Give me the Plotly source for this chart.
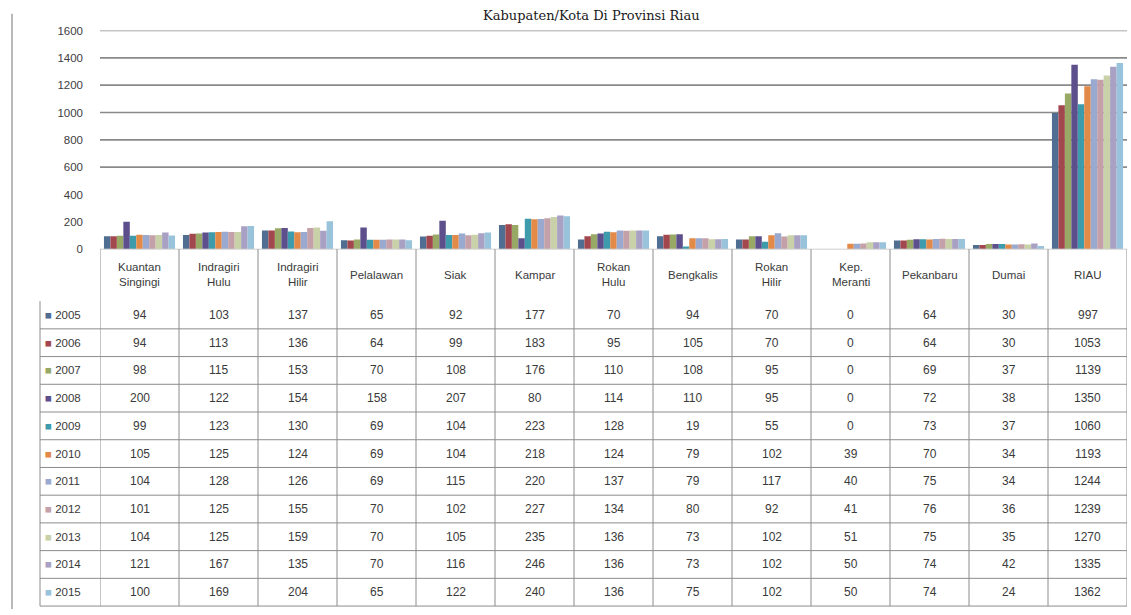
import plotly.graph_objects as go

# ---------------- data ----------------
CATEGORIES = ["Kuantan Singingi", "Indragiri Hulu", "Indragiri Hilir", "Pelalawan", "Siak",
              "Kampar", "Rokan Hulu", "Bengkalis", "Rokan Hilir", "Kep. Meranti",
              "Pekanbaru", "Dumai", "RIAU"]
HEADER_LABELS = ["Kuantan<br>Singingi", "Indragiri<br>Hulu", "Indragiri<br>Hilir", "Pelalawan", "Siak",
                 "Kampar", "Rokan<br>Hulu", "Bengkalis", "Rokan<br>Hilir", "Kep.<br>Meranti",
                 "Pekanbaru", "Dumai", "RIAU"]
YEARS = ["2005", "2006", "2007", "2008", "2009", "2010", "2011", "2012", "2013", "2014", "2015"]

V2005 = [94, 103, 137, 65, 92, 177, 70, 94, 70, 0, 64, 30, 997]
V2006 = [94, 113, 136, 64, 99, 183, 95, 105, 70, 0, 64, 30, 1053]
V2007 = [98, 115, 153, 70, 108, 176, 110, 108, 95, 0, 69, 37, 1139]
V2008 = [200, 122, 154, 158, 207, 80, 114, 110, 95, 0, 72, 38, 1350]
V2009 = [99, 123, 130, 69, 104, 223, 128, 19, 55, 0, 73, 37, 1060]
V2010 = [105, 125, 124, 69, 104, 218, 124, 79, 102, 39, 70, 34, 1193]
V2011 = [104, 128, 126, 69, 115, 220, 137, 79, 117, 40, 75, 34, 1244]
V2012 = [101, 125, 155, 70, 102, 227, 134, 80, 92, 41, 76, 36, 1239]
V2013 = [104, 125, 159, 70, 105, 235, 136, 73, 102, 51, 75, 35, 1270]
V2014 = [121, 167, 135, 70, 116, 246, 136, 73, 102, 50, 74, 42, 1335]
V2015 = [100, 169, 204, 65, 122, 240, 136, 75, 102, 50, 74, 24, 1362]
SERIES = [V2005, V2006, V2007, V2008, V2009, V2010, V2011, V2012, V2013, V2014, V2015]

COLORS = ["#4F6E92", "#A3474F", "#98A966", "#5C4F8C", "#3E9BAB", "#E38A48",
          "#9AA9CF", "#C4A1A8", "#C9D1A9", "#A9A1C3", "#98C3DA"]

Y_TICKS = [0, 200, 400, 600, 800, 1000, 1200, 1400, 1600]
GRID_VALUES = [600, 800, 1000, 1200, 1400, 1600]

TITLE = "Kabupaten/Kota Di Provinsi Riau"

# ---------------- layout helpers (pixels -> paper) ----------------
W, H = 1131, 615
def px_x(p):
    return p / W
def px_y(p):
    return 1 - p / H

PLOT_L, PLOT_R = 100, 1127
AXIS_Y, TOP_Y = 248, 25
TABLE_TOP, TABLE_BOT = 301, 612
TABLE_LEFT = 40
ROW_H = (TABLE_BOT - TABLE_TOP) / len(YEARS)

fig = go.Figure()
for yr, vals, col in zip(YEARS, SERIES, COLORS):
    fig.add_trace(go.Bar(name=yr, x=CATEGORIES, y=vals, marker=dict(color=col, line=dict(width=0)),
                         showlegend=False, hoverinfo="skip"))

font_family = "Liberation Sans, Arial, sans-serif"
txt_color = "#3a3a3a"
line_color = "#8c8c8c"

shapes = []
annotations = []

# gridlines (only upper ones visible in the reference)
for g in GRID_VALUES:
    shapes.append(dict(type="line", xref="paper", yref="y", x0=px_x(PLOT_L), x1=px_x(PLOT_R),
                       y0=g, y1=g, line=dict(color="#8a8a8a", width=1.6), layer="below"))

# axis line / table top
shapes.append(dict(type="line", xref="paper", yref="paper", x0=px_x(PLOT_L), x1=px_x(PLOT_R),
                   y0=px_y(AXIS_Y), y1=px_y(AXIS_Y), line=dict(color="#cfcfcf", width=1)))

# vertical separators between categories
n = len(CATEGORIES)
for i in range(n + 1):
    shapes.append(dict(type="line", xref="x", yref="paper", x0=i - 0.5, x1=i - 0.5,
                       y0=px_y(AXIS_Y), y1=px_y(TABLE_BOT), line=dict(color=line_color, width=1)))

# legend column borders
shapes.append(dict(type="line", xref="paper", yref="paper", x0=px_x(TABLE_LEFT), x1=px_x(TABLE_LEFT),
                   y0=px_y(TABLE_TOP), y1=px_y(TABLE_BOT), line=dict(color=line_color, width=1)))

# horizontal row lines
for k in range(1, len(YEARS) + 1):
    yy = TABLE_TOP + k * ROW_H
    shapes.append(dict(type="line", xref="paper", yref="paper", x0=px_x(TABLE_LEFT), x1=px_x(PLOT_R),
                       y0=px_y(yy), y1=px_y(yy), line=dict(color=line_color, width=1)))

# frame line at the left
shapes.append(dict(type="line", xref="paper", yref="paper", x0=px_x(12), x1=px_x(12),
                   y0=px_y(8), y1=0, line=dict(color="#a0a0a0", width=1.5)))

# header labels
for i, lab in enumerate(HEADER_LABELS):
    annotations.append(dict(x=CATEGORIES[i], xref="x", y=px_y(274), yref="paper", text=lab,
                            showarrow=False, xanchor="center", yanchor="middle",
                            font=dict(family=font_family, size=11.5, color=txt_color)))

# table values + legend keys
for r, (yr, vals, col) in enumerate(zip(YEARS, SERIES, COLORS)):
    yc = px_y(TABLE_TOP + (r + 0.5) * ROW_H)
    annotations.append(dict(x=px_x(43), xref="paper", y=yc, yref="paper",
                            text=f"<span style='color:{col}'>■</span> {yr}",
                            showarrow=False, xanchor="left", yanchor="middle",
                            font=dict(family=font_family, size=11.5, color=txt_color)))
    for i, v in enumerate(vals):
        annotations.append(dict(x=CATEGORIES[i], xref="x", y=yc, yref="paper", text=str(v),
                                showarrow=False, xanchor="center", yanchor="middle",
                                font=dict(family=font_family, size=12, color=txt_color)))

# title (top strip)
annotations.append(dict(x=px_x(591), xref="paper", y=1, yref="paper", text=TITLE,
                        showarrow=False, xanchor="center", yanchor="top",
                        font=dict(family="DejaVu Serif, serif", size=13, color="#1a1a1a")))

fig.update_layout(
    width=W, height=H,
    margin=dict(l=0, r=0, t=0, b=0),
    paper_bgcolor="white", plot_bgcolor="white",
    barmode="group", bargap=0.1, bargroupgap=0,
    shapes=shapes, annotations=annotations,
    xaxis=dict(domain=[px_x(PLOT_L), px_x(PLOT_R)], showticklabels=False, showgrid=False,
               zeroline=False, showline=False, ticks="", range=[-0.5, n - 0.5]),
    yaxis=dict(domain=[px_y(AXIS_Y), px_y(TOP_Y)], range=[0, 1600], tickvals=Y_TICKS,
               showgrid=False, zeroline=False, showline=False, ticks="",
               ticklabelstandoff=16,
               tickfont=dict(family=font_family, size=11.5, color="#404040")),
)

POST = ("document.documentElement.style.margin='0';document.documentElement.style.padding='0';"
        "document.documentElement.style.overflow='hidden';"
        "document.body.style.margin='0';document.body.style.padding='0';"
        "document.body.style.overflow='hidden';document.body.style.height='615px';"
        "var d=document.getElementById('{plot_id}');"
        "d.style.position='fixed';d.style.top='0px';d.style.left='0px';")
fig.write_html("out.html", post_script=POST, config={"displayModeBar": False})
